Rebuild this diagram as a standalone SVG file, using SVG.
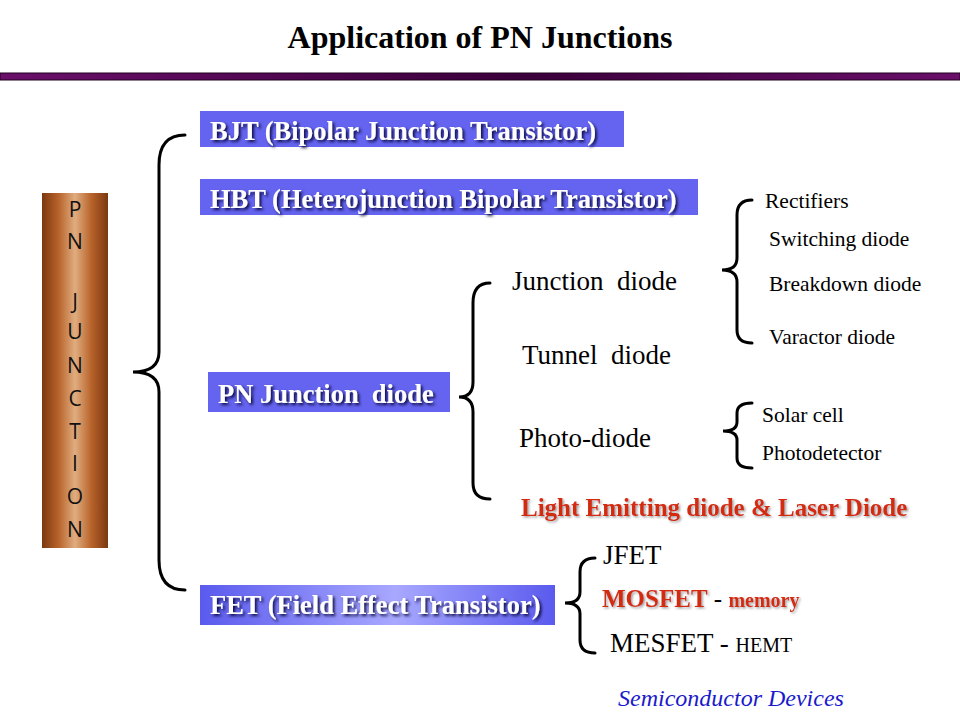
<svg xmlns="http://www.w3.org/2000/svg" width="960" height="720" viewBox="0 0 960 720">
<defs>
<linearGradient id="bar" x1="0" y1="0" x2="1" y2="0">
<stop offset="0" stop-color="#6a0f6a"/><stop offset="0.55" stop-color="#3a003a"/><stop offset="1" stop-color="#6a0f6a"/>
</linearGradient>
<linearGradient id="brown" x1="0" y1="0" x2="1" y2="0">
<stop offset="0" stop-color="#7a3810"/><stop offset="0.25" stop-color="#b8632a"/><stop offset="0.5" stop-color="#e0ad80"/><stop offset="0.75" stop-color="#b8632a"/><stop offset="1" stop-color="#7a3810"/>
</linearGradient>
<linearGradient id="fet" x1="0" y1="0" x2="1" y2="0">
<stop offset="0" stop-color="#5a5aee"/><stop offset="0.55" stop-color="#a8a8ff"/><stop offset="1" stop-color="#5a5aee"/>
</linearGradient>
<filter id="shadow" x="-10%" y="-30%" width="120%" height="160%">
<feDropShadow dx="2" dy="2" stdDeviation="1.5" flood-color="#000033" flood-opacity="0.9"/>
</filter>
<filter id="rshadow" x="-10%" y="-30%" width="120%" height="160%">
<feDropShadow dx="1.5" dy="1.5" stdDeviation="0.8" flood-color="#888" flood-opacity="0.8"/>
</filter>
<style>
.box{fill:#6464f0}
.bt{font-family:"Liberation Serif",serif;font-weight:bold;font-size:26.5px;fill:#fff;filter:url(#shadow)}
.brace{fill:none;stroke:#000;stroke-width:3;stroke-linecap:round}
.st{font-family:"Liberation Serif",serif;font-size:27px;fill:#000}
.sm{font-family:"Liberation Serif",serif;font-size:21.5px;fill:#000}
.pn{font-family:"Open Sans","Noto Sans",sans-serif;font-size:21px;fill:#111;text-anchor:middle}
.red{font-family:"Liberation Serif",serif;font-weight:bold;fill:#d42a10;filter:url(#rshadow)}
</style>
</defs>
<rect width="960" height="720" fill="#fff"/>
<text x="480" y="48" text-anchor="middle" font-family="Liberation Serif, serif" font-weight="bold" font-size="32" fill="#000">Application of PN Junctions</text>
<rect x="0" y="73" width="960" height="7" fill="url(#bar)" stroke="#200020" stroke-width="1"/>

<g id="pn-junction">
<rect x="42" y="193" width="66" height="355" fill="url(#brown)"/>
<text class="pn" x="75" y="217">P</text>
<text class="pn" x="75" y="249">N</text>
<text class="pn" x="75" y="309">J</text>
<text class="pn" x="75" y="339">U</text>
<text class="pn" x="75" y="373">N</text>
<text class="pn" x="75" y="406">C</text>
<text class="pn" x="75" y="439">T</text>
<text class="pn" x="75" y="471">I</text>
<text class="pn" x="75" y="504">O</text>
<text class="pn" x="75" y="537">N</text>
</g>

<g id="bjt"><rect class="box" x="200" y="111" width="424" height="36"/><text class="bt" x="210" y="140">BJT (Bipolar Junction Transistor)</text></g>
<g id="hbt"><rect class="box" x="200" y="179" width="498" height="36"/><text class="bt" x="210" y="208">HBT (Heterojunction Bipolar Transistor)</text></g>
<g id="pn-diode"><rect class="box" x="208" y="372" width="242" height="40"/><text class="bt" x="218" y="403" xml:space="preserve">PN Junction  diode</text></g>
<g id="fet-node"><rect x="200" y="585" width="355" height="40" fill="url(#fet)"/><text class="bt" x="210" y="614">FET (Field Effect Transistor)</text></g>

<g id="connectors">
<path class="brace" d="M185,135 Q159,135 159,165 L159,352 Q159,372 133,372 Q159,372 159,392 L159,560 Q159,590 185,590"/>
<path class="brace" d="M490,283 Q473,283 473,303 L473,382 Q473,397 459,397 Q473,397 473,412 L473,483 Q473,499 490,499"/>
<path class="brace" d="M752,200 Q737,200 737,215 L737,258 Q737,270 722,270 Q737,270 737,282 L737,330 Q737,343 752,343"/>
<path class="brace" d="M752,403 Q737,403 737,413 L737,422 Q737,431 723,431 Q737,431 737,440 L737,458 Q737,468 752,468"/>
<path class="brace" d="M595,558 Q580,558 580,572 L580,592 Q580,603 565,603 Q580,603 580,614 L580,640 Q580,653 595,653"/>
</g>

<g id="junction-diode"><text class="st" x="512" y="290" xml:space="preserve">Junction  diode</text></g>
<g id="tunnel-diode"><text class="st" x="522" y="364" xml:space="preserve">Tunnel  diode</text></g>
<g id="photo-diode"><text class="st" x="519" y="447">Photo-diode</text></g>
<g id="led"><text class="red" x="521" y="516" font-size="25">Light Emitting diode &amp; Laser Diode</text></g>

<g id="rectifiers"><text class="sm" x="765" y="208">Rectifiers</text></g>
<g id="switching"><text class="sm" x="769" y="246">Switching diode</text></g>
<g id="breakdown"><text class="sm" x="769" y="291">Breakdown diode</text></g>
<g id="varactor"><text class="sm" x="769" y="344">Varactor diode</text></g>
<g id="solar"><text class="sm" x="762" y="422">Solar cell</text></g>
<g id="photodetector"><text class="sm" x="762" y="460">Photodetector</text></g>

<g id="jfet"><text class="st" x="603" y="564" font-size="26">JFET</text></g>
<g id="mosfet"><text x="602" y="607"><tspan class="red" font-size="25">MOSFET</tspan><tspan font-family="Liberation Serif, serif" font-size="25" fill="#000"> - </tspan><tspan class="red" font-size="20">memory</tspan></text></g>
<g id="mesfet"><text x="610" y="652" font-family="Liberation Serif, serif" fill="#000"><tspan font-size="27">MESFET - </tspan><tspan font-size="20">HEMT</tspan></text></g>

<text x="618" y="706" font-family="Liberation Serif, serif" font-style="italic" font-size="24" fill="#1a1acc">Semiconductor Devices</text>
</svg>
